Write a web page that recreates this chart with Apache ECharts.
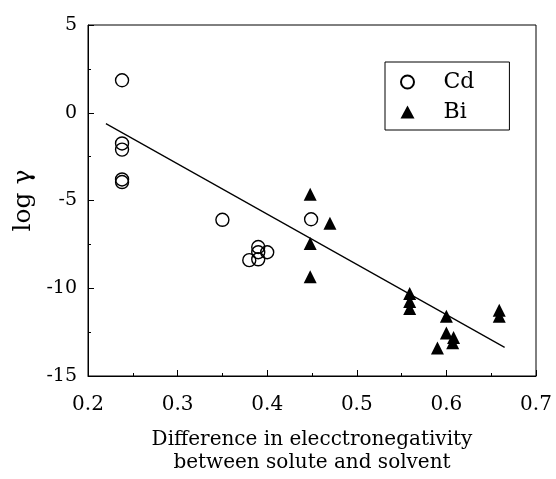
<!DOCTYPE html>
<html>
<head>
<meta charset="utf-8">
<script src="https://cdn.jsdelivr.net/npm/echarts@6/dist/echarts.min.js"></script>
<style>html,body{margin:0;padding:0;background:#fff}#c{width:556px;height:479px}</style>
</head>
<body>
<div id="c"></div>
<script>
var cdX = [0.238, 0.238, 0.238, 0.238, 0.238, 0.35, 0.449, 0.38, 0.39, 0.39, 0.40, 0.39];
var cdY = [1.85, -1.75, -2.1, -3.8, -3.95, -6.1, -6.07, -8.4, -7.65, -7.95, -7.95, -8.35];
var biX = [0.448, 0.448, 0.448, 0.47, 0.559, 0.559, 0.559, 0.60, 0.60, 0.608, 0.607, 0.59, 0.659, 0.659];
var biY = [-4.65, -7.45, -9.35, -6.3, -10.3, -10.75, -11.15, -11.6, -12.55, -12.8, -13.1, -13.4, -11.25, -11.6];
var fitX = [0.22, 0.665];
var fitY = [-0.62, -13.37];
var xTicks = [0.2, 0.7, 0.1];
var yTicks = [-15, 5, 5];

function pairs(xs, ys) { return xs.map(function (x, i) { return [x, ys[i]]; }); }
var serif = '"DejaVu Serif", "Liberation Serif", serif';
var chart = echarts.init(document.getElementById('c'));
chart.setOption({
  animation: false,
  grid: { left: 88, right: 20, top: 25, bottom: 99, show: true, borderColor: '#000', borderWidth: 1 },
  legend: {
    left: 385, top: 62, orient: 'vertical',
    borderColor: '#000', borderWidth: 1,
    padding: [9, 35, 7, 15], itemGap: 8,
    itemWidth: 14, itemHeight: 13,
    textStyle: { fontFamily: serif, fontSize: 22, color: '#000', padding: [0, 0, 0, 24] },
    data: ['Cd', 'Bi']
  },
  xAxis: {
    type: 'value', min: xTicks[0], max: xTicks[1], interval: xTicks[2],
    axisLine: { onZero: false, lineStyle: { color: '#000', width: 1 } },
    axisTick: { inside: true, length: 6, lineStyle: { color: '#000' } },
    minorTick: { show: true, splitNumber: 2, length: 3, lineStyle: { color: '#000' } },
    splitLine: { show: false },
    axisLabel: { fontFamily: serif, fontSize: 20, color: '#000', margin: 19, formatter: function (v) { return v.toFixed(1); } },
    name: 'Difference in elecctronegativity\nbetween solute and solvent',
    nameLocation: 'middle', nameGap: 52,
    nameTextStyle: { fontFamily: serif, fontSize: 20, color: '#000', lineHeight: 23 }
  },
  yAxis: {
    type: 'value', min: yTicks[0], max: yTicks[1], interval: yTicks[2],
    axisLine: { onZero: false, lineStyle: { color: '#000', width: 1 } },
    axisTick: { inside: true, length: 6, lineStyle: { color: '#000' } },
    minorTick: { show: true, splitNumber: 2, length: 3, lineStyle: { color: '#000' } },
    splitLine: { show: false },
    axisLabel: { fontFamily: serif, fontSize: 19, color: '#000', margin: 11 },
    name: 'log γ', nameLocation: 'middle', nameGap: 49, nameRotate: 90,
    nameTextStyle: { fontFamily: serif, fontSize: 25, color: '#000' }
  },
  series: [
    {
      name: 'fit', type: 'line', data: pairs(fitX, fitY), symbol: 'none',
      lineStyle: { color: '#000', width: 1.2 }, z: 1
    },
    {
      name: 'Cd', type: 'scatter', data: pairs(cdX, cdY), symbol: 'circle', symbolSize: 13,
      itemStyle: { color: 'rgba(255,255,255,0)', borderColor: '#000', borderWidth: 1.4, opacity: 1 }, z: 3
    },
    {
      name: 'Bi', type: 'scatter', data: pairs(biX, biY), symbol: 'triangle', symbolSize: [13, 13],
      itemStyle: { color: '#000', opacity: 1 }, z: 3
    }
  ]
});
</script>
</body>
</html>
